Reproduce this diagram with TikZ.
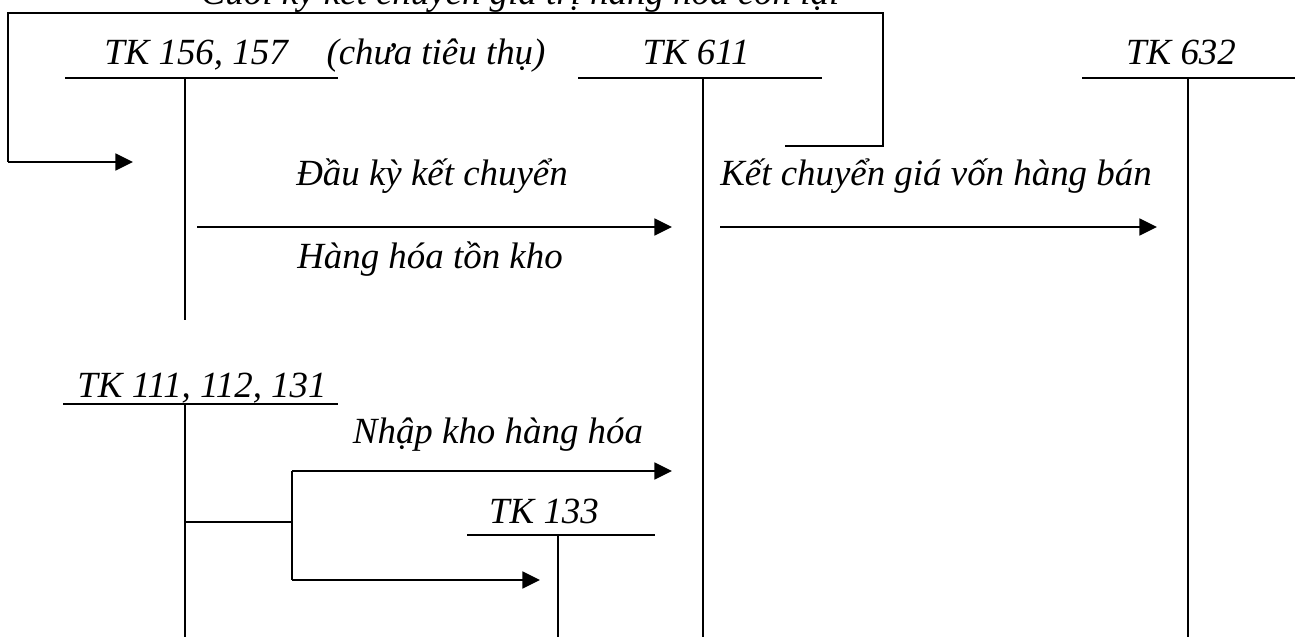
\documentclass[tikz,border=0pt]{standalone}
\usepackage{fontspec}
\setmainfont{Liberation Serif}
\usetikzlibrary{arrows.meta}
\begin{document}
\begin{tikzpicture}[x=0.02cm,y=-0.02cm,
  lbl/.style={font=\fontsize{21}{25}\selectfont\itshape, inner sep=0pt, anchor=base},
  acct/.style={line width=1.1pt},
  flow/.style={line width=1.4pt, -{Triangle[length=10pt,width=9.5pt]}}]
\useasboundingbox (0,0) rectangle (1303,637);

% account titles
\node[lbl] (t156) at (196,64) {TK 156, 157};
\node[lbl] (tchua) at (436,64) {(chưa tiêu thụ)};
\node[lbl] (t611) at (696,64) {TK 611};
\node[lbl] (t632) at (1181,64) {TK 632};
\node[lbl] (t111) at (202,397) {TK 111, 112, 131};
\node[lbl] (t133) at (544,523) {TK 133};

% flow labels
\node[lbl] (ltop) at (520,4) {Cuối kỳ kết chuyển giá trị hàng hóa còn lại};
\node[lbl] (ldau) at (432,185) {Đầu kỳ kết chuyển};
\node[lbl] (lhang) at (430,268) {Hàng hóa tồn kho};
\node[lbl] (lket) at (936,185) {Kết chuyển giá vốn hàng bán};
\node[lbl] (lnhap) at (498,443) {Nhập kho hàng hóa};

% T-account skeletons
\coordinate (a156l) at (65,78);  \coordinate (a156r) at (338,78);
\coordinate (a156t) at (185,78); \coordinate (a156b) at (185,320);
\coordinate (a611l) at (578,78); \coordinate (a611r) at (822,78);
\coordinate (a611t) at (703,78); \coordinate (a611b) at (703,637);
\coordinate (a632l) at (1082,78); \coordinate (a632r) at (1295,78);
\coordinate (a632t) at (1188,78); \coordinate (a632b) at (1188,637);
\coordinate (a111l) at (63,404); \coordinate (a111r) at (338,404);
\coordinate (a111t) at (185,404); \coordinate (a111b) at (185,637);
\coordinate (a133l) at (467,535); \coordinate (a133r) at (655,535);
\coordinate (a133t) at (558,535); \coordinate (a133b) at (558,637);

\foreach \a in {156,611,632,111,133}{
  \draw[acct] (a\a l) -- (a\a r);
  \draw[acct] (a\a t) -- (a\a b);
}

% closing transfer bracket at the top
\coordinate (bs) at (785,146);
\coordinate (bc1) at (883,146);
\coordinate (bc2) at (883,13);
\coordinate (bc3) at (8,13);
\coordinate (bc4) at (8,162);
\coordinate (be) at (133,162);
\draw[acct] (bs) -- (bc1) -- (bc2) -- (bc3) -- (bc4);
\draw[flow] (bc4) -- (be);

% opening transfer and cost of goods sold
\coordinate (d1) at (197,227); \coordinate (d2) at (672,227);
\draw[flow] (d1) -- (d2);
\coordinate (k1) at (720,227); \coordinate (k2) at (1157,227);
\draw[flow] (k1) -- (k2);

% purchases split to 611 and 133
\coordinate (p0) at (185,522);
\coordinate (p1) at (292,522);
\coordinate (p2) at (292,471); \coordinate (p3) at (672,471);
\coordinate (p4) at (292,580); \coordinate (p5) at (540,580);
\draw[acct] (p0) -- (p1);
\draw[acct] (p2) -- (p4);
\draw[flow] (p2) -- (p3);
\draw[flow] (p4) -- (p5);
\end{tikzpicture}
\end{document}
